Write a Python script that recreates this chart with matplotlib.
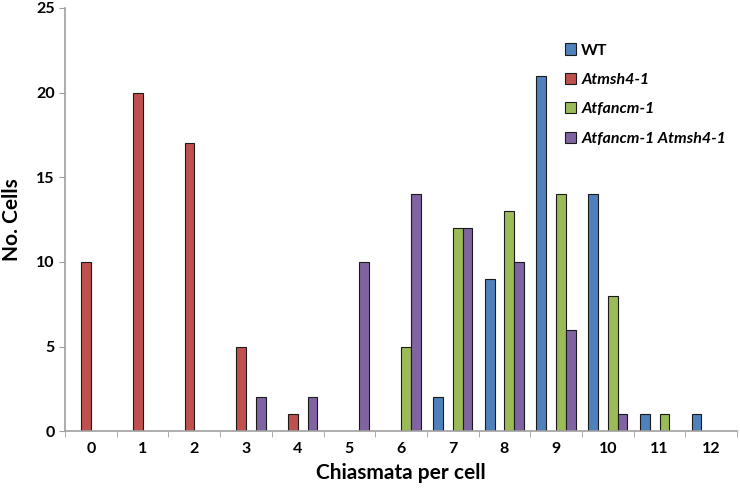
import numpy as np
import matplotlib.pyplot as plt

categories = list(range(13))
series_names = ["WT", "Atmsh4-1", "Atfancm-1", "Atfancm-1 Atmsh4-1"]
wt = [0, 0, 0, 0, 0, 0, 0, 2, 9, 21, 14, 1, 1]
msh4 = [10, 20, 17, 5, 1, 0, 0, 0, 0, 0, 0, 0, 0]
fancm = [0, 0, 0, 0, 0, 0, 5, 12, 13, 14, 8, 1, 0]
fancm_msh4 = [0, 0, 0, 2, 2, 10, 14, 12, 10, 6, 1, 0, 0]
colors = ["#4F81BD", "#C0504D", "#9BBB59", "#8064A2"]

plt.rcParams["font.family"] = ["Lato", "DejaVu Sans"]

fig = plt.figure(figsize=(7.4, 4.95), dpi=100)
ax = fig.add_axes([0.088, 0.129, 0.908, 0.855])

x = np.arange(len(categories))
w = 0.19
for i, (vals, name, c) in enumerate(zip([wt, msh4, fancm, fancm_msh4], series_names, colors)):
    xs = x + (i - 1.5) * w
    mask = np.array(vals) > 0
    ax.bar(xs[mask], np.array(vals)[mask], width=w, color=c, edgecolor="#1a1a1a",
           linewidth=0.8, label=name)

ax.set_xlim(-0.5, 12.5)
ax.set_ylim(0, 25)
ax.set_yticks(range(0, 26, 5))
ax.set_xticks(x)
ax.set_xticklabels([str(c) for c in categories], fontsize=11.5, fontweight="bold")
ax.set_xticks(np.arange(-0.5, 13, 1), minor=True)
ax.tick_params(axis="x", which="major", length=0, pad=8)
ax.tick_params(axis="x", which="minor", length=4, color="#a0a0a0")
ax.tick_params(axis="y", length=4, color="#a0a0a0", labelsize=11.5)
for lab in ax.get_yticklabels():
    lab.set_fontweight("bold")

for s in ["top", "right"]:
    ax.spines[s].set_visible(False)
for s in ["left", "bottom"]:
    ax.spines[s].set_color("#a0a0a0")
    ax.spines[s].set_linewidth(1.2)

ax.set_ylabel("No. Cells", fontsize=15, fontweight="bold", labelpad=10)
ax.set_xlabel("Chiasmata per cell", fontsize=15, fontweight="bold", labelpad=5)

leg = ax.legend(loc="upper right", bbox_to_anchor=(1.005, 0.95), frameon=False,
                fontsize=11.5, handlelength=0.7, handleheight=0.7, handletextpad=0.3,
                labelspacing=0.95)
for i, t in enumerate(leg.get_texts()):
    t.set_fontweight("bold")
    if i > 0:
        t.set_fontstyle("italic")

fig.savefig("out.png", dpi=100)
